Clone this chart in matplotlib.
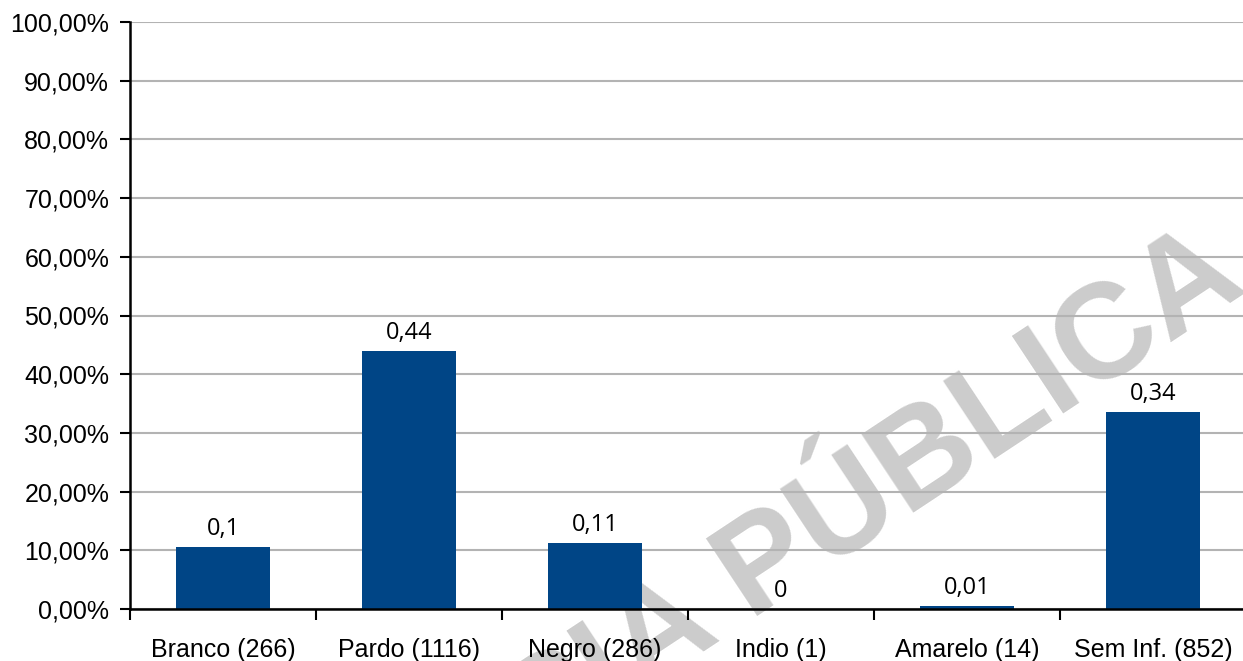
import matplotlib
matplotlib.use("Agg")
import matplotlib.pyplot as plt
import numpy as np

# Case counts per self-declared race/colour group
categories = ["Branco", "Pardo", "Negro", "Indio", "Amarelo", "Sem Inf."]
counts = [266, 1116, 286, 1, 14, 852]
y_ticks = [0.0, 0.1, 0.2, 0.3, 0.4, 0.5, 0.6, 0.7, 0.8, 0.9, 1.0]

total = sum(counts)
shares = [c / total for c in counts]
tick_labels = [f"{name} ({n})" for name, n in zip(categories, counts)]

W, H, DPI = 1243, 661, 100
fig = plt.figure(figsize=(W / DPI, H / DPI), dpi=DPI)
fig.patch.set_facecolor("white")

# Plot area in pixel terms
left, right, top, bottom = 130, 1246, 22, 609
ax = fig.add_axes([left / W, 1 - bottom / H, (right - left) / W, (bottom - top) / H])
ax.set_facecolor("none")

# Watermark behind the plot
fig.text(1250 / W, 1 - 290 / H, "CÓPIA PÚBLICA", fontsize=97, fontweight="bold",
         family="Liberation Sans", color="#cccccc", rotation=33.5,
         rotation_mode="anchor", ha="right", va="baseline", zorder=-5)

x = np.arange(len(categories))
ax.bar(x, shares, width=0.505, color="#004586", zorder=3)

for xi, v in zip(x, shares):
    r = round(v, 2)
    txt = f"{r:g}".replace(".", ",")
    ax.annotate(txt, (xi, v), xytext=(0, 8.6), textcoords="offset points",
                ha="center", va="baseline", fontsize=17, family="Open Sans",
                color="black", zorder=4)

ax.set_xlim(-0.5, len(categories) - 0.5)
ax.set_ylim(0, 1.0)
ax.set_yticks(y_ticks)
ax.set_yticklabels([f"{t * 100:.2f}%".replace(".", ",") for t in y_ticks],
                   fontsize=18, family="Liberation Sans")
ax.yaxis.grid(True, color="#b3b3b3", linewidth=1.5, zorder=1)
ax.set_axisbelow(True)

# Category labels centred between boundary ticks
ax.set_xticks(x)
ax.set_xticklabels(tick_labels, fontsize=18, family="Liberation Sans")
ax.tick_params(axis="x", which="major", length=0, pad=21)
ax.set_xticks(np.arange(len(categories) + 1) - 0.5, minor=True)
ax.tick_params(axis="x", which="minor", length=8, width=1.5, direction="out")
ax.tick_params(axis="y", length=7, width=1.5, direction="out", pad=8)

for side in ["top", "right"]:
    ax.spines[side].set_visible(False)
for side in ["left", "bottom"]:
    ax.spines[side].set_linewidth(1.8)
    ax.spines[side].set_color("black")
    ax.spines[side].set_zorder(5)

fig.savefig("out.png", dpi=DPI, facecolor="white")
